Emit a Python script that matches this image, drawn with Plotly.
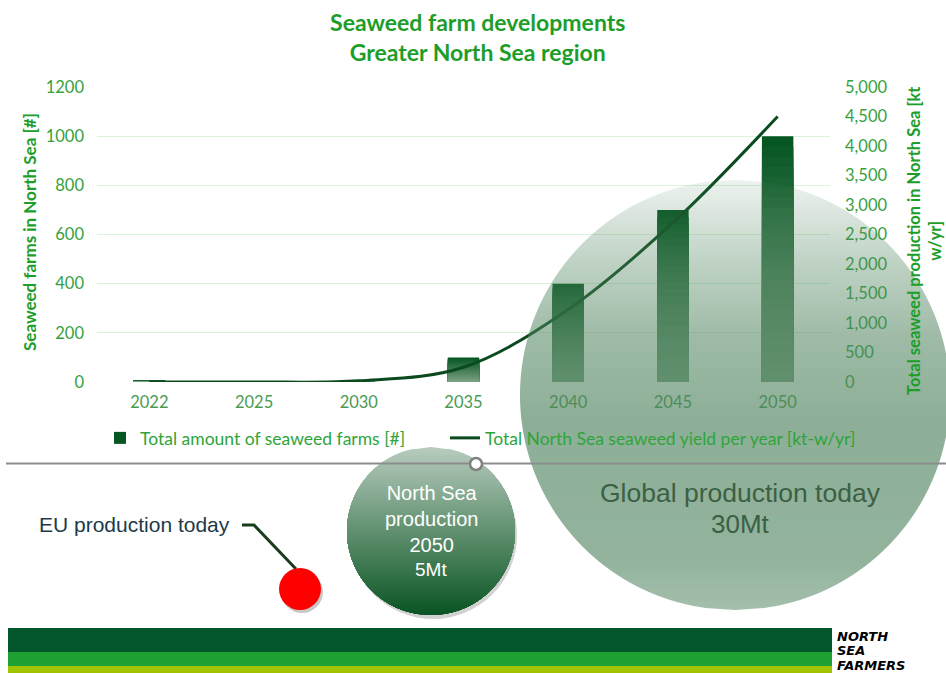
import math
import plotly.graph_objects as go

# ---------------- data ----------------
years = ["2022", "2025", "2030", "2035", "2040", "2045", "2050"]
farms = [5, 0, 2, 100, 400, 700, 1000]                 # left axis [#]
yield_kt = [0, 0, 20, 250, 1230, 2700, 4500]          # right axis [kt-w/yr]
left_ticks = [0, 200, 400, 600, 800, 1000, 1200]
right_ticks = [0, 500, 1000, 1500, 2000, 2500, 3000, 3500, 4000, 4500, 5000]

W, H = 946, 673


def X(px):
    return px / W


def Y(py):
    return 1 - py / H


def mix(c0, c1, t):
    return tuple(round(a + (b - a) * t) for a, b in zip(c0, c1))


fig = go.Figure()

# gradient bars: overlaid layers (top dark -> bottom light)
N = 24
dark = (6, 86, 34)
light = (122, 160, 131)
for k in range(N):
    frac = (N - k) / N
    c = mix(dark, light, k / (N - 1))
    fig.add_trace(go.Bar(
        x=years, y=[v * frac for v in farms],
        marker=dict(color="rgb(%d,%d,%d)" % c, line=dict(width=0)),
        width=0.3, name="Total amount of seaweed farms [#]",
        showlegend=(k == 0), legendgroup="farms", legend="legend",
        hoverinfo="skip" if k else None, yaxis="y",
    ))

fig.add_trace(go.Scatter(
    x=years, y=yield_kt, mode="lines", yaxis="y2", legend="legend2",
    line=dict(color="#0b4a1f", width=3, shape="spline"),
    name="Total North Sea seaweed yield per year [kt-w/yr]",
))

green_txt = "#35a13e"
title_green = "#1d9d2a"
font_main = "Lato"
legend_font = dict(family=font_main, size=17.5, color="#2ea43a")

fig.update_layout(
    width=W, height=H,
    margin=dict(l=0, r=0, t=0, b=0, pad=0, autoexpand=False),
    paper_bgcolor="white", plot_bgcolor="rgba(0,0,0,0)",
    barmode="overlay",
    title=dict(text="Seaweed farm developments<br>Greater North Sea region",
               x=0.505, xanchor="center", y=Y(31), yanchor="middle", automargin=False,
               font=dict(family=font_main, size=23, color=title_green, weight="bold")),
    xaxis=dict(domain=[X(97), X(830)], type="category", automargin=False,
               showgrid=False, showline=False, zeroline=False,
               tickfont=dict(family=font_main, size=16.5, color="#4a9a52"),
               ticklabelstandoff=8),
    yaxis=dict(domain=[Y(382), Y(87)], range=[0, 1200], tickvals=left_ticks,
               tickformat="d", showgrid=True, gridcolor="#d8f4da", gridwidth=1,
               zeroline=False, showline=False, automargin=False,
               tickfont=dict(family=font_main, size=16.5, color=green_txt),
               ticklabelstandoff=12),
    yaxis2=dict(overlaying="y", side="right", range=[0, 5000], tickvals=right_ticks,
                tickformat=",", showgrid=False, zeroline=False, showline=False,
                automargin=False,
                tickfont=dict(family=font_main, size=16.5, color=green_txt),
                ticklabelstandoff=14),
    legend=dict(orientation="h", x=X(100), xanchor="left", y=Y(438), yanchor="middle",
                font=legend_font, bgcolor="rgba(0,0,0,0)"),
    legend2=dict(orientation="h", x=X(445), xanchor="left", y=Y(438), yanchor="middle",
                 font=legend_font, bgcolor="rgba(0,0,0,0)"),
    showlegend=True,
)

shapes = []


def seg_path(cx, cy, r, y0, y1, step=1.0):
    """Polygon of the part of circle between pixel rows y0 and y1."""
    y0 = max(y0, cy - r)
    y1 = min(y1, cy + r)
    ys = [y0]
    yy = y0
    while yy + step < y1:
        yy += step
        ys.append(yy)
    ys.append(y1)
    left, right = [], []
    for v in ys:
        hw = math.sqrt(max(r * r - (v - cy) ** 2, 0.0))
        left.append((cx - hw, v))
        right.append((cx + hw, v))
    pts = left + right[::-1]
    return "M" + " L".join("%.6f,%.6f" % (X(a), Y(b)) for a, b in pts) + " Z"


def circle_shape(cx, cy, r, fill, layer="above"):
    return dict(type="circle", xref="paper", yref="paper",
                x0=X(cx - r), x1=X(cx + r), y0=Y(cy + r), y1=Y(cy - r),
                fillcolor=fill, line=dict(width=0), layer=layer)


# big circle (Global production) - semi-transparent vertical gradient strips
bcx, bcy, br = 735, 395, 215
base = (80, 132, 95)
alpha_stops = [(180, 0.10), (260, 0.36), (340, 0.56), (420, 0.65), (560, 0.62), (610, 0.52)]


def alpha_at(yy):
    for (ya, aa), (yb, ab) in zip(alpha_stops[:-1], alpha_stops[1:]):
        if ya <= yy <= yb:
            return aa + (ab - aa) * (yy - ya) / (yb - ya)
    return alpha_stops[-1][1]


yy = bcy - br
while yy < bcy + br:
    y1 = min(yy + 2, bcy + br)
    a = alpha_at((yy + y1) / 2)
    shapes.append(dict(type="path", xref="paper", yref="paper",
                       path=seg_path(bcx, bcy, br, yy, y1, step=2),
                       fillcolor="rgba(%d,%d,%d,%.3f)" % (base + (a,)),
                       line=dict(width=0), layer="above"))
    yy = y1

# medium circle (North Sea production 2050): nested opaque segments
mcx, mcy, mr = 431, 531, 84
shapes.append(circle_shape(mcx + 2, mcy + 4, mr, "rgba(0,0,0,0.18)"))
top_c = (184, 204, 190)
bot_c = (9, 84, 34)
yy = mcy - mr
while yy < mcy + mr:
    t = (yy + 1 - (mcy - mr)) / (2 * mr)
    c = mix(top_c, bot_c, t)
    shapes.append(dict(type="path", xref="paper", yref="paper",
                       path=seg_path(mcx, mcy, mr, yy, mcy + mr, step=3),
                       fillcolor="rgb(%d,%d,%d)" % c,
                       line=dict(width=0), layer="above"))
    yy += 2

# horizontal divider line with small white marker
shapes.append(dict(type="line", xref="paper", yref="paper", x0=X(6), x1=X(946),
                   y0=Y(463.5), y1=Y(463.5), line=dict(color="#8c8c8c", width=2), layer="above"))
shapes.append(dict(type="circle", xref="paper", yref="paper",
                   x0=X(470), x1=X(482), y0=Y(470), y1=Y(458),
                   fillcolor="white", line=dict(color="#808080", width=2.5), layer="above"))

# EU production: red dot + leader line
shapes.append(dict(type="path", xref="paper", yref="paper",
                   path="M%.6f,%.6f L%.6f,%.6f L%.6f,%.6f" % (X(242), Y(525), X(254), Y(525), X(296), Y(569)),
                   line=dict(color="#1b3d1e", width=3), layer="above"))
shapes.append(circle_shape(302, 592, 21, "rgba(0,0,0,0.22)"))
shapes.append(circle_shape(300, 589, 21, "#ff0000"))

# bottom stripes
for (y0, y1, col) in [(628, 652, "#03572d"), (652, 666, "#1ea132"), (666, 673, "#a0c400")]:
    shapes.append(dict(type="rect", xref="paper", yref="paper",
                       x0=X(8), x1=X(832), y0=Y(y1), y1=Y(y0),
                       fillcolor=col, line=dict(width=0), layer="above"))

fig.update_layout(shapes=shapes)


def A(text, px, py, size, color, family="Liberation Sans", angle=0, xanchor="center"):
    return dict(text=text, x=X(px), y=Y(py), xref="paper", yref="paper",
                xanchor=xanchor, yanchor="middle", showarrow=False, textangle=angle,
                font=dict(family=family, size=size, color=color))


ann = []
# axis titles
ann.append(A("<b>Seaweed farms in North Sea [#]</b>", 29, 232, 17, title_green, font_main, -90))
ann.append(A("<b>Total seaweed production in North Sea [kt<br>w/yr]</b>", 924, 241, 16.5,
             title_green, font_main, -90))
# bubble texts
ann.append(A("Global production today", 740, 493, 26.5, "#3b6044"))
ann.append(A("30Mt", 740, 524, 26, "#3b6044"))
ann.append(A("North Sea<br>production<br>2050", 431, 519, 20, "white"))
ann.append(A("5Mt", 431, 569, 19, "white"))
ann.append(A("EU production today", 134.5, 524, 21, "#1c3a48"))
# logo
for txt, yy in [("NORTH", 636), ("SEA", 650.5), ("FARMERS", 665)]:
    ann.append(A("<b><i>%s</i></b>" % txt, 835, yy, 13, "black", "DejaVu Sans", 0, "left"))

fig.update_layout(annotations=ann)

fig.write_html("out.html")
